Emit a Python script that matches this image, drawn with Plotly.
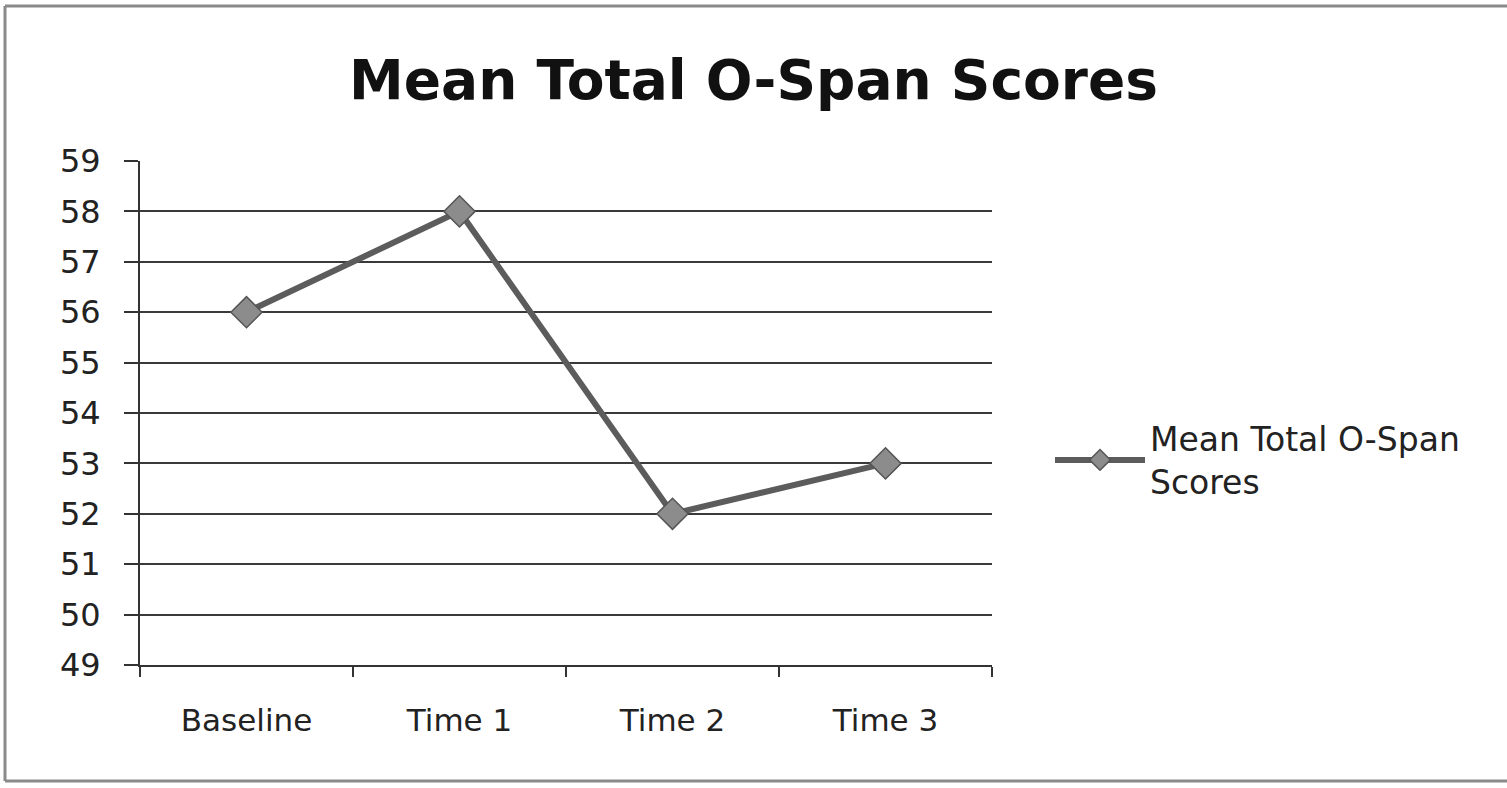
import plotly.graph_objects as go

categories = ["Baseline", "Time 1", "Time 2", "Time 3"]
scores = [56, 58, 52, 53]
series_name = "Mean Total O-Span<br>Scores"
title_text = "Mean Total O-Span Scores"
y_ticks = list(range(49, 60))

fig = go.Figure()
fig.add_trace(go.Scatter(
    x=categories, y=scores, name=series_name, mode="lines+markers",
    line=dict(color="#5c5c5c", width=6),
    marker=dict(symbol="diamond", size=24, color="#8c8c8c", line=dict(color="#555555", width=1.5)),
))

W, H = 1507, 788
L, R, T, B = 140, 515, 161, 123
pw, ph = W - L - R, H - T - B
FONT = "DejaVu Sans"

def px_x(v):
    return (v - L) / pw

def px_y(v):
    return (H - B - v) / ph

border = dict(color="#8a8a8a", width=3)
fig.update_layout(
    width=W, height=H,
    margin=dict(l=L, r=R, t=T, b=B),
    paper_bgcolor="white", plot_bgcolor="white",
    font=dict(family=FONT, color="#222222"),
    title=dict(text="<b>" + title_text + "</b>", x=0.5, xanchor="center",
               y=1 - 80 / H, yanchor="middle",
               font=dict(size=55, family=FONT, color="#111111")),
    showlegend=True,
    legend=dict(x=px_x(1050), y=px_y(460), xanchor="left", yanchor="middle",
                font=dict(size=33, color="#222222", family=FONT), itemwidth=90,
                bgcolor="rgba(0,0,0,0)"),
    xaxis=dict(type="category", tickson="boundaries", ticks="outside", ticklen=10,
               tickcolor="#333333", tickwidth=2, showgrid=False,
               showline=True, linecolor="#333333", linewidth=2,
               tickfont=dict(size=31, color="#222222", family=FONT), ticklabelstandoff=27,
               range=[-0.5, 3.5]),
    yaxis=dict(range=[49, 59], tickvals=y_ticks, ticks="outside", ticklen=14,
               tickcolor="#333333", tickwidth=2,
               showgrid=True, gridcolor="#3a3a3a", gridwidth=1.5,
               showline=True, linecolor="#333333", linewidth=2,
               tickfont=dict(size=32, color="#222222", family=FONT), ticklabelstandoff=17,
               zeroline=False),
    shapes=[
        dict(type="line", xref="paper", yref="paper", x0=px_x(5), x1=px_x(5),
             y0=px_y(6), y1=px_y(781), line=border),
        dict(type="line", xref="paper", yref="paper", x0=px_x(5), x1=px_x(1507),
             y0=px_y(6), y1=px_y(6), line=border),
        dict(type="line", xref="paper", yref="paper", x0=px_x(5), x1=px_x(1507),
             y0=px_y(781), y1=px_y(781), line=border),
    ],
)

fig.write_html("out.html", config={"displayModeBar": False},
               post_script="document.body.style.margin='0';")
